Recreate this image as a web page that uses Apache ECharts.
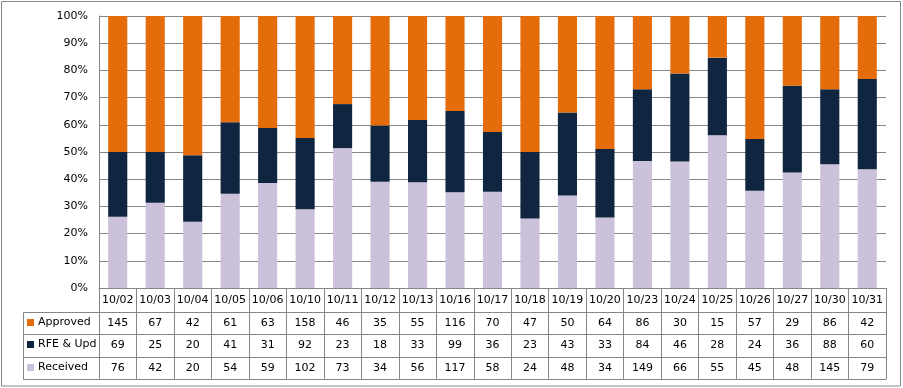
<!DOCTYPE html>
<html>
<head>
<meta charset="utf-8">
<script src="https://cdn.jsdelivr.net/npm/echarts@6/dist/echarts.min.js"></script>
<style>html,body{margin:0;padding:0;background:#fff}#c{width:903px;height:388px}</style>
</head>
<body>
<div id="c"></div>
<script>
var categories = ['10/02','10/03','10/04','10/05','10/06','10/10','10/11','10/12','10/13','10/16','10/17','10/18','10/19','10/20','10/23','10/24','10/25','10/26','10/27','10/30','10/31'];
var approved = [145,67,42,61,63,158,46,35,55,116,70,47,50,64,86,30,15,57,29,86,42];
var rfeUpd   = [69,25,20,41,31,92,23,18,33,99,36,23,43,33,84,46,28,24,36,88,60];
var received = [76,42,20,54,59,102,73,34,56,117,58,24,48,34,149,66,55,45,48,145,79];
var yTicks = [0,10,20,30,40,50,60,70,80,90,100];

var totals = categories.map(function(_, i){ return approved[i] + rfeUpd[i] + received[i]; });
function pct(arr){ return arr.map(function(v, i){ return v / totals[i] * 100; }); }

var C_APP = '#E46C0A', C_RFE = '#10253F', C_REC = '#CCC1DA';
var GRAY = '#868686';
var FONT = 'DejaVu Sans';

function tableAxis(offset, vals, tickLen, margin, showLabel){
  return {
    type: 'category', gridIndex: 0, position: 'bottom', offset: offset,
    data: categories, boundaryGap: true,
    axisLine: { show: true, lineStyle: { color: GRAY, width: 1 } },
    axisTick: { show: tickLen > 0, length: tickLen, lineStyle: { color: GRAY, width: 1 }, interval: 0 },
    axisLabel: {
      show: showLabel, interval: 0, margin: margin, verticalAlign: 'middle',
      color: '#000', fontFamily: FONT, fontSize: 11,
      formatter: function(v, idx){ return vals ? String(vals[idx]) : v; }
    },
    splitLine: { show: false }
  };
}

var chart = echarts.init(document.getElementById('c'), null, { renderer: 'canvas' });
var legendBase = { orient: 'horizontal', left: 27, itemWidth: 7, itemHeight: 7, itemGap: 4, icon: 'rect',
  textStyle: { fontFamily: FONT, fontSize: 11, color: '#000', padding: [0,0,0,-1] }, selectedMode: false, padding: 0 };

chart.setOption({
  animation: false,
  grid: { left: 99, right: 17, top: 16, bottom: 100, containLabel: false },
  legend: [
    Object.assign({}, legendBase, { data: ['Approved'], top: 317 }),
    Object.assign({}, legendBase, { data: ['RFE & Upd'], top: 339 }),
    Object.assign({}, legendBase, { data: ['Received'], top: 362 })
  ],
  xAxis: [
    tableAxis(0, null, 24, 12, true),
    tableAxis(24, approved, 22, 11.5, true),
    tableAxis(46, rfeUpd, 23, 11.5, true),
    tableAxis(69, received, 22, 11, true),
    tableAxis(91, null, 0, 0, false)
  ],
  yAxis: {
    type: 'value', min: 0, max: 100, interval: 10,
    axisLine: { show: true, lineStyle: { color: GRAY, width: 1 } },
    axisTick: { show: false },
    axisLabel: { margin: 11, color: '#000', fontFamily: FONT, fontSize: 11,
      formatter: function(v){ return yTicks.indexOf(v) >= 0 ? v + '%' : ''; } },
    splitLine: { show: true, lineStyle: { color: GRAY, width: 1 } }
  },
  series: [
    { name: 'Received', type: 'bar', stack: 'all', xAxisIndex: 0, data: pct(received), barWidth: '51%', itemStyle: { color: C_REC } },
    { name: 'RFE & Upd', type: 'bar', stack: 'all', xAxisIndex: 0, data: pct(rfeUpd), barWidth: '51%', itemStyle: { color: C_RFE } },
    { name: 'Approved', type: 'bar', stack: 'all', xAxisIndex: 0, data: pct(approved), barWidth: '51%', itemStyle: { color: C_APP } }
  ],
  graphic: [
    { type: 'rect', silent: true, shape: { x: 1.5, y: 1.5, width: 899, height: 384.5 }, style: { fill: 'none', stroke: GRAY, lineWidth: 1 } },
    { type: 'polyline', silent: true, shape: { points: [[99, 312.5], [23.5, 312.5], [23.5, 379.5], [99, 379.5]] }, style: { fill: 'none', stroke: GRAY, lineWidth: 1 } },
    { type: 'line', silent: true, shape: { x1: 23.5, y1: 334.5, x2: 99, y2: 334.5 }, style: { stroke: GRAY, lineWidth: 1 } },
    { type: 'line', silent: true, shape: { x1: 23.5, y1: 357.5, x2: 99, y2: 357.5 }, style: { stroke: GRAY, lineWidth: 1 } }
  ]
});
</script>
</body>
</html>
